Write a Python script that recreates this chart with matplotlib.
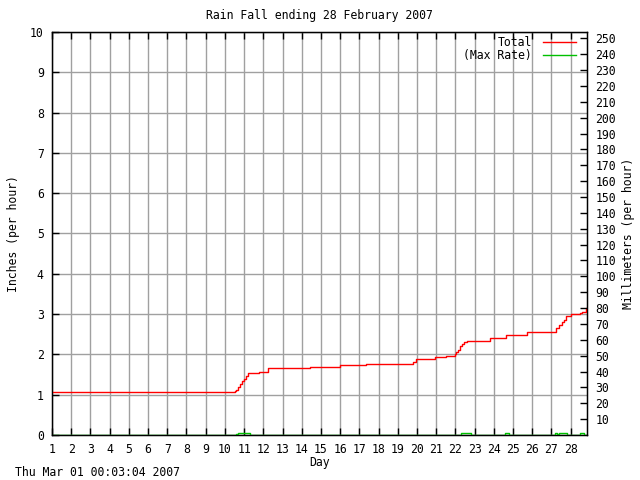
import matplotlib
matplotlib.use("Agg")
import matplotlib.pyplot as plt

# cumulative rain total (inches), step-wise
total_days = [1.0, 10.52, 10.6, 10.7, 10.8, 10.9, 11.0, 11.1, 11.2, 11.77, 12.22,
              14.42, 15.98, 17.32, 19.71, 19.8, 19.97, 20.93, 21.53, 21.97, 22.05,
              22.15, 22.25, 22.35, 22.45, 22.58, 23.79, 24.62, 25.73, 27.26, 27.4,
              27.55, 27.65, 27.78, 28.04, 28.47, 28.6, 28.8, 28.85]
total_in = [1.06, 1.08, 1.12, 1.20, 1.27, 1.33, 1.40, 1.46, 1.53, 1.57, 1.655,
            1.68, 1.73, 1.755, 1.77, 1.82, 1.88, 1.93, 1.96, 2.00, 2.05,
            2.12, 2.20, 2.26, 2.30, 2.33, 2.40, 2.48, 2.55, 2.66, 2.72,
            2.80, 2.85, 2.95, 3.00, 3.02, 3.06, 3.14, 3.14]

# max rain rate (inches per hour)
rate_days = [1.0, 10.6, 10.7, 11.3, 22.3, 22.8, 24.6, 24.8, 27.2, 27.3, 27.4,
             27.5, 27.8, 28.5, 28.7, 28.85]
rate_in = [0, 0.02, 0.05, 0, 0.05, 0, 0.04, 0, 0.05, 0.02, 0.05, 0.06, 0, 0.04, 0, 0]

day_ticks = list(range(1, 29))
inch_ticks = list(range(0, 11))
mm_ticks = list(range(10, 251, 10))

font = "DejaVu Sans Mono"
fs = 8.3
plt.rcParams["font.family"] = font

fig = plt.figure(figsize=(6.4, 4.8), dpi=100)
ax = fig.add_axes([52 / 640, 45 / 480, 535 / 640, 403 / 480])

ax.step(total_days, total_in, where="post", color="#ff0000", lw=1, label="Total", zorder=3)
ax.step(rate_days, rate_in, where="post", color="#00c000", lw=1, label="(Max Rate)", zorder=3)

ax.set_xlim(1, 28.85)
ax.set_ylim(0, 10)
ax.set_xticks(day_ticks)
ax.set_yticks(inch_ticks)
ax.grid(True, color="#a0a0a0", lw=1)
ax.set_axisbelow(True)
ax.tick_params(direction="in", length=5, width=1, top=True, right=True,
               labelsize=fs, pad=6)
for s in ax.spines.values():
    s.set_linewidth(1)

ax.set_title("Rain Fall ending 28 February 2007", fontsize=fs, pad=9)
ax.set_xlabel("Day", fontsize=fs, labelpad=0)
ax.set_ylabel("Inches (per hour)", fontsize=fs, labelpad=7)

ax2 = ax.twinx()
ax2.set_ylim(0, 254)
ax2.set_yticks(mm_ticks)
ax2.tick_params(direction="in", length=5, width=1, labelsize=fs, pad=6)
ax2.set_ylabel("Millimeters (per hour)", fontsize=fs, labelpad=4)

leg = ax.legend(loc="upper right", frameon=False, fontsize=fs, markerfirst=False,
                handlelength=2.9, handletextpad=0.9, labelspacing=0.0,
                borderpad=0, borderaxespad=0,
                bbox_to_anchor=(576 / 640, 1 - 36 / 480),
                bbox_transform=fig.transFigure)
for t in leg.get_texts():
    t.set_ha("right")
leg.set_zorder(5)

fig.text(15 / 640, 1 - 472 / 480, "Thu Mar 01 00:03:04 2007", fontsize=fs,
         ha="left", va="center")

fig.savefig("out.png", dpi=100)
